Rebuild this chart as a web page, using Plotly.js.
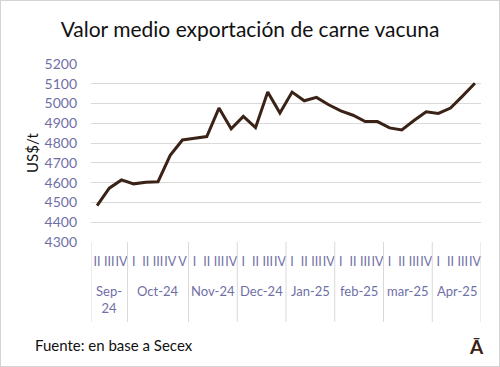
<!DOCTYPE html>
<html>
<head>
<meta charset="utf-8">
<script src="https://cdn.plot.ly/plotly-3.0.1.min.js"></script>
<style>
html,body{margin:0;padding:0;background:#fff;}
#chart{width:500px;height:367px;box-sizing:border-box;border:1px solid #d4d4d4;}
</style>
</head>
<body>
<div id="chart"></div>
<script>
var months = ["Sep-<br>24","Oct-24","Nov-24","Dec-24","Jan-25","feb-25","mar-25","Apr-25"];
var weeksPerMonth = [
  ["II","III","IV"],
  ["I","II","III","IV","V"],
  ["I","II","III","IV"],
  ["I","II","III","IV"],
  ["I","II","III","IV"],
  ["I","II","III","IV"],
  ["I","II","III","IV"],
  ["I","II","III","IV"]
];
var values = [4484, 4572, 4614, 4594, 4602, 4605, 4738, 4816,
              4825, 4833, 4977, 4872, 4935, 4878, 5058, 4952,
              5058, 5014, 5031, 4994, 4963, 4941, 4909, 4909,
              4877, 4867, 4914, 4958, 4950, 4977, 5039, 5103];

var labelColor = "#6f6fa6";
var fontFam = "Lato, 'Open Sans', sans-serif";
var plotBottomPx = 241, plotHeightPx = 178;
function py(px){ return (plotBottomPx - px) / plotHeightPx; }

var idx = [], inner = [];
var shapes = [], annotations = [];
var pos = 0;
months.forEach(function(m, i){
  var n = weeksPerMonth[i].length;
  shapes.push({type: "line", xref: "x", yref: "paper", x0: pos - 0.5, x1: pos - 0.5,
               y0: 0, y1: py(321), line: {color: "#d9d9d9", width: 1}});
  annotations.push({text: m, xref: "x", yref: "paper", x: pos + (n - 1) / 2, y: py(280),
                    xanchor: "center", yanchor: "top", showarrow: false,
                    font: {family: fontFam, size: 13, color: labelColor}});
  weeksPerMonth[i].forEach(function(w){ idx.push(pos); inner.push(w); pos++; });
});
shapes.push({type: "line", xref: "x", yref: "paper", x0: pos - 0.5, x1: pos - 0.5,
             y0: 0, y1: py(321), line: {color: "#d9d9d9", width: 1}});

annotations.push({
  text: "Fuente: en base a Secex",
  xref: "paper", yref: "paper",
  x: (33 - 1 - 90) / 390, y: py(344),
  xanchor: "left", yanchor: "middle",
  showarrow: false,
  font: {family: fontFam, size: 15, color: "#111111"}
});
annotations.push({
  text: "<b>Ā</b>",
  xref: "paper", yref: "paper",
  x: (476 - 1 - 90) / 390, y: py(345),
  xanchor: "center", yanchor: "middle",
  showarrow: false,
  font: {family: fontFam, size: 19, color: "#3a2216"}
});

var trace = {
  x: idx,
  y: values,
  type: "scatter",
  mode: "lines",
  line: {color: "#3a2216", width: 3, shape: "linear"},
  hoverinfo: "y"
};

var layout = {
  width: 498,
  height: 365,
  margin: {l: 90, r: 18, t: 63, b: 124},
  paper_bgcolor: "#ffffff",
  plot_bgcolor: "#ffffff",
  showlegend: false,
  font: {family: fontFam, color: labelColor},
  title: {
    text: "Valor medio exportación de carne vacuna",
    font: {family: fontFam, size: 21, color: "#111111"},
    x: 0.5, xanchor: "center",
    y: 1 - 29/365, yref: "container", yanchor: "middle"
  },
  xaxis: {
    range: [-0.5, idx.length - 0.5],
    tickmode: "array",
    tickvals: idx,
    ticktext: inner,
    tickangle: 0,
    showgrid: false,
    zeroline: false,
    showline: false,
    ticks: "",
    ticklabelstandoff: 10,
    tickfont: {family: fontFam, size: 12.5, color: labelColor}
  },
  yaxis: {
    range: [4300, 5200],
    dtick: 100,
    tick0: 4300,
    showgrid: true,
    gridcolor: "#d9d9d9",
    gridwidth: 1,
    zeroline: false,
    showline: false,
    ticks: "",
    ticklabelstandoff: 13,
    tickfont: {family: fontFam, size: 14, color: labelColor},
    title: {text: "US$/t", font: {family: fontFam, size: 15, color: "#111111"}, standoff: 2}
  },
  shapes: shapes,
  annotations: annotations
};

Plotly.newPlot("chart", [trace], layout, {displayModeBar: false, staticPlot: true});
</script>
</body>
</html>
